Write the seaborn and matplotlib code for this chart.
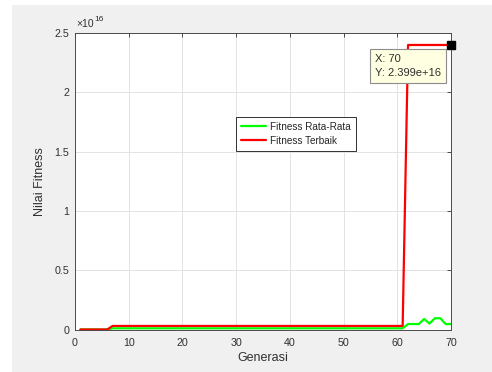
import matplotlib
matplotlib.use("Agg")
import matplotlib.pyplot as plt
import pandas as pd
import seaborn as sns
from matplotlib.patches import Rectangle
from matplotlib.ticker import FuncFormatter

# Generations of the genetic algorithm run
generasi = list(range(1, 71))

# Average fitness per generation
fitness_rata_rata = [
    0, 0, 0, 0, 0, 0, 1.0e14, 1.0e14, 1.0e14, 1.0e14,
    1.0e14, 1.0e14, 1.0e14, 1.0e14, 1.0e14, 1.0e14, 1.0e14, 1.0e14, 1.0e14, 1.0e14,
    1.0e14, 1.0e14, 1.0e14, 1.0e14, 1.0e14, 1.0e14, 1.0e14, 1.0e14, 1.0e14, 1.0e14,
    1.0e14, 1.0e14, 1.0e14, 1.0e14, 1.0e14, 1.0e14, 1.0e14, 1.0e14, 1.0e14, 1.0e14,
    1.0e14, 1.0e14, 1.0e14, 1.0e14, 1.0e14, 1.0e14, 1.0e14, 1.0e14, 1.0e14, 1.0e14,
    1.0e14, 1.0e14, 1.0e14, 1.0e14, 1.0e14, 1.0e14, 1.0e14, 1.0e14, 1.0e14, 1.0e14,
    1.0e14, 4.6e14, 4.6e14, 4.6e14, 8.9e14, 5.0e14, 9.5e14, 9.5e14, 4.6e14, 4.6e14,
]

# Best fitness per generation
fitness_terbaik = [
    0, 0, 0, 0, 0, 0, 3.0e14, 3.0e14, 3.0e14, 3.0e14,
    3.0e14, 3.0e14, 3.0e14, 3.0e14, 3.0e14, 3.0e14, 3.0e14, 3.0e14, 3.0e14, 3.0e14,
    3.0e14, 3.0e14, 3.0e14, 3.0e14, 3.0e14, 3.0e14, 3.0e14, 3.0e14, 3.0e14, 3.0e14,
    3.0e14, 3.0e14, 3.0e14, 3.0e14, 3.0e14, 3.0e14, 3.0e14, 3.0e14, 3.0e14, 3.0e14,
    3.0e14, 3.0e14, 3.0e14, 3.0e14, 3.0e14, 3.0e14, 3.0e14, 3.0e14, 3.0e14, 3.0e14,
    3.0e14, 3.0e14, 3.0e14, 3.0e14, 3.0e14, 3.0e14, 3.0e14, 3.0e14, 3.0e14, 3.0e14,
    3.0e14, 2.399e16, 2.399e16, 2.399e16, 2.399e16, 2.399e16, 2.399e16, 2.399e16, 2.399e16, 2.399e16,
]

series_names = ["Fitness Rata-Rata", "Fitness Terbaik"]
series_colors = ["#00ff00", "#ff0000"]
x_ticks = [0, 10, 20, 30, 40, 50, 60, 70]
y_ticks = [0, 0.5e16, 1.0e16, 1.5e16, 2.0e16, 2.5e16]
y_scale = 1e16

df = pd.DataFrame({
    "Generasi": generasi * 2,
    "Nilai": fitness_rata_rata + fitness_terbaik,
    "Seri": [series_names[0]] * len(generasi) + [series_names[1]] * len(generasi),
})

sns.set_theme(style="white")
plt.rcParams["font.family"] = ["Liberation Sans", "DejaVu Sans"]

TEXT = "#303030"
W, H = 492, 372
fig = plt.figure(figsize=(W / 100, H / 100), dpi=100, facecolor="white")
fig.patches.append(Rectangle((12 / W, 0), 1 - 12 / W, 1 - 5 / H,
                             transform=fig.transFigure, facecolor="#f0f0f0",
                             edgecolor="none", zorder=-10))

ax = fig.add_axes([75 / W, (H - 329.5) / H, 376 / W, 296.5 / H])
ax.set_facecolor("white")

sns.lineplot(data=df, x="Generasi", y="Nilai", hue="Seri",
             palette=dict(zip(series_names, series_colors)),
             linewidth=1.6, estimator=None, ax=ax)
for line in ax.lines:
    line.set_clip_on(False)

ax.set_xlim(x_ticks[0], x_ticks[-1])
ax.set_ylim(y_ticks[0], y_ticks[-1])
ax.set_xticks(x_ticks)
ax.set_yticks(y_ticks)
ax.yaxis.set_major_formatter(FuncFormatter(lambda v, p: "%g" % (v / y_scale)))

# Exponent of the y axis, written as ×10 with a raised 16
base = ax.text(0.003, 1.012, "\u00d710", transform=ax.transAxes,
               ha="left", va="bottom", fontsize=7.5, color=TEXT)
ax.annotate("16", xy=(1.0, 0.6), xycoords=base, xytext=(0.5, 0),
            textcoords="offset points", ha="left", va="bottom",
            fontsize=6, color=TEXT)

ax.grid(True, color="#e3e3e3", linewidth=0.7)
ax.set_axisbelow(True)
ax.tick_params(direction="in", length=3, width=0.6, top=True, right=True,
               labelsize=7.7, colors=TEXT)
ax.tick_params(axis="x", pad=6)
ax.tick_params(axis="y", pad=4)
for s in ax.spines.values():
    s.set_color("#4a4a4a")
    s.set_linewidth(0.7)

ax.set_xlabel("Generasi", fontsize=9, color=TEXT, labelpad=3)
ax.set_ylabel("Nilai Fitness", fontsize=9, color=TEXT, labelpad=6)

handles, labels = ax.get_legend_handles_labels()
ax.legend(handles, labels, loc="upper left", bbox_to_anchor=(0.428, 0.717),
          fontsize=7.2, frameon=True, fancybox=False, edgecolor="#303030",
          framealpha=1, handlelength=2.5, borderpad=0.5, labelspacing=0.4,
          handletextpad=0.4, borderaxespad=0)
ax.get_legend().get_frame().set_linewidth(0.7)

# Data tip on the final generation's best fitness
x_last, y_last = generasi[-1], fitness_terbaik[-1]
ax.plot([x_last], [y_last], marker="s", color="black", markersize=5.5,
        clip_on=False, zorder=6)
ax.text(0.797, 0.929, f"X: {x_last}\nY: {y_last:.4g}", transform=ax.transAxes,
        ha="left", va="top", fontsize=8, color=TEXT, linespacing=1.55,
        zorder=7,
        bbox=dict(boxstyle="square,pad=0.45", facecolor="#ffffe1",
                  edgecolor="#8c8c8c", linewidth=0.8))

fig.savefig("out.png", dpi=100, facecolor=fig.get_facecolor())
